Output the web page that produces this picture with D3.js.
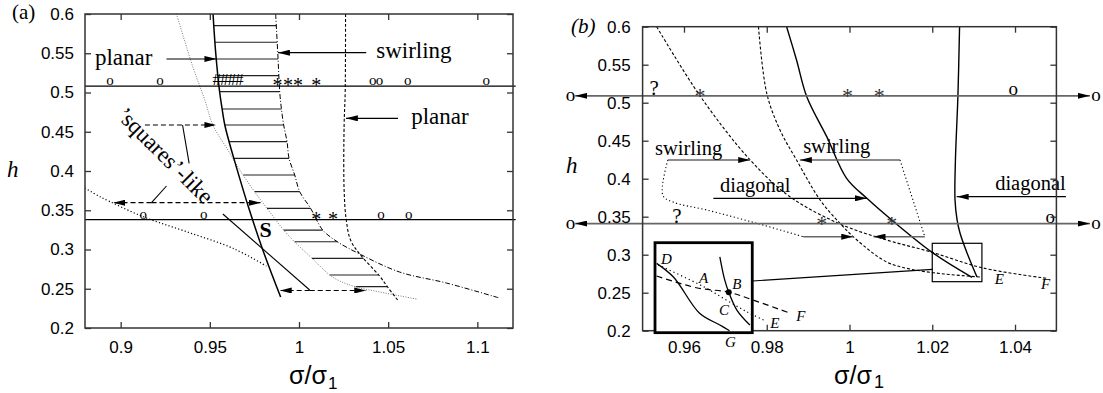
<!DOCTYPE html>
<html>
<head>
<meta charset="utf-8">
<script src="https://cdn.jsdelivr.net/npm/d3@7"></script>
<style>
  body { margin: 0; background: #fff; }
</style>
</head>
<body>
<svg id="fig" width="1103" height="393"></svg>
<script>
// ---------- data (x = sigma/sigma1, h) ----------
const yTicks = [0.2, 0.25, 0.3, 0.35, 0.4, 0.45, 0.5, 0.55, 0.6]
const xTicksA = [0.9, 0.95, 1, 1.05, 1.1]
const xTicksB = [0.96, 0.98, 1, 1.02, 1.04]

// panel (a) curves
const solidA = [[0.9518,0.6],[0.9533,0.5503],[0.9555,0.5006],[0.9568,0.4803],[0.9584,0.4586],[0.9608,0.4373],[0.9634,0.4166],[0.9713,0.3567],[0.9797,0.2994],[0.9897,0.2395]]
const grayDotA = [[0.9313,0.6],[0.9405,0.5325],[0.9472,0.4904],[0.9517,0.4586],[0.9601,0.4268],[0.9668,0.4013],[0.9752,0.3732],[0.9819,0.3529],[0.9914,0.3248],[0.9976,0.3096],[1.0071,0.2892],[1.0172,0.2675],[1.0228,0.2599],[1.0323,0.2522],[1.0452,0.2459],[1.0659,0.2369]]
const dotDashA = [[0.9869,0.6],[0.9881,0.5503],[0.9892,0.5006],[0.9901,0.4799],[0.9914,0.4586],[0.9933,0.4373],[0.9944,0.4162],[0.9976,0.3949],[1.0004,0.3736],[1.0065,0.3525],[1.0133,0.3248],[1.0217,0.3096],[1.034,0.2943],[1.0564,0.2713],[1.0827,0.2573],[1.1124,0.2382]]
const dashedA = [[1.0261,0.6],[1.0259,0.5006],[1.0253,0.4586],[1.0253,0.3758],[1.0265,0.3376],[1.0289,0.3121],[1.034,0.2943],[1.0452,0.2662],[1.0497,0.2522],[1.0553,0.2357]]
const blackDotA = [[0.88,0.3783],[0.8884,0.3673],[0.9126,0.3418],[0.9369,0.3227],[0.963,0.3015],[0.9817,0.279]]
const hatchLevelsA = [0.5851,0.564,0.5427,0.5214,0.501,0.479,0.4586,0.4373,0.4162,0.3949,0.3736,0.3525,0.3248,0.3099,0.2888,0.2675,0.2526]
const hLinesA = [0.508, 0.338]
const markersA = [
  {h:0.508,x:0.894,s:"o"},{h:0.508,x:0.922,s:"o"},
  {h:0.508,x:0.9539,s:"#"},{h:0.508,x:0.9581,s:"#"},{h:0.508,x:0.9623,s:"#"},{h:0.508,x:0.9665,s:"#"},
  {h:0.508,x:0.9879,s:"*"},{h:0.508,x:0.9938,s:"*"},{h:0.508,x:0.9994,s:"*"},{h:0.508,x:1.0097,s:"*"},
  {h:0.508,x:1.0413,s:"o"},{h:0.508,x:1.0452,s:"o"},{h:0.508,x:1.061,s:"o"},{h:0.508,x:1.105,s:"o"},
  {h:0.338,x:0.9127,s:"o"},{h:0.338,x:0.9466,s:"o"},{h:0.338,x:1.0097,s:"*"},{h:0.338,x:1.019,s:"*"},
  {h:0.338,x:1.046,s:"o"},{h:0.338,x:1.0616,s:"o"}
]
const arrowsA = [
  {from:[0.9257,0.5427],to:[0.9537,0.5427]},
  {from:[1.0377,0.5507],to:[0.9882,0.5507]},
  {from:[1.0555,0.4671],to:[1.0263,0.4671]},
  {from:[0.9136,0.4586],to:[0.9537,0.4586],dash:true},
  {from:[0.9173,0.3596],to:[0.8958,0.3596],dash:true},
  {from:[0.9173,0.3596],to:[0.9785,0.3596],dash:true},
  {from:[1.006,0.2478],to:[0.9892,0.2478],dash:true},
  {from:[1.006,0.2478],to:[1.0377,0.2478],dash:true}
]
const segmentsA = [
  [[0.9347,0.4586],[0.9384,0.4098]],
  [[0.9173,0.3596],[0.9257,0.3809]],
  [[0.9573,0.3452],[1.006,0.2484]]
]
const labelsA = [
  {t:"planar",x:0.8856,h:0.535},
  {t:"swirling",x:1.0433,h:0.5435},
  {t:"planar",x:1.0629,h:0.4595}
]

// panel (b) curves
const dashA_B = [[0.9534,0.6],[0.9639,0.5088],[0.976,0.4246],[0.9856,0.3763],[0.9977,0.3404],[1.009,0.3193],[1.0195,0.3039],[1.0323,0.2825],[1.0477,0.2689]]
const dashB_B = [[0.978,0.6],[0.98,0.5124],[0.9832,0.4641],[0.9872,0.4246],[0.9929,0.372],[0.9977,0.3413],[1.0018,0.3193],[1.009,0.2904],[1.0146,0.2812],[1.023,0.2746],[1.0316,0.2707]]
const solidC_B = [[0.9848,0.6],[0.9872,0.5562],[0.9897,0.5075],[0.9945,0.4553],[0.9993,0.4005],[1.0042,0.3742],[1.0102,0.3457],[1.0203,0.3018],[1.0296,0.2703]]
const solidD_B = [[1.0266,0.6],[1.0262,0.5088],[1.0256,0.4246],[1.0255,0.372],[1.026,0.3457],[1.0267,0.3286],[1.0284,0.3024],[1.0308,0.2707]]
const dotLeftB = [[0.9561,0.4246],[0.9549,0.378],[0.9575,0.369],[0.9655,0.3588],[0.9776,0.3413],[0.9888,0.3237]]
const dotRightB = [[1.0122,0.4246],[1.0182,0.3237]]
const hLinesB = [0.509, 0.341]
const hLineEndsB = [0.9337, 1.0581]
const hLineOB = [0.9326, 1.0596]
const markersB = [
  {h:0.509,x:0.9528,s:"?"},{h:0.509,x:0.9639,s:"*"},{h:0.509,x:0.9995,s:"*"},{h:0.509,x:1.0072,s:"*"},{h:0.509,x:1.0396,s:"o"},
  {h:0.341,x:0.9583,s:"?"},{h:0.341,x:0.9933,s:"*"},{h:0.341,x:1.0102,s:"*"},{h:0.341,x:1.0485,s:"o"}
]
const arrowsB = [
  {from:[0.9561,0.4246],to:[0.976,0.4246],gray:true},
  {from:[1.0122,0.4246],to:[0.988,0.4246],gray:true},
  {from:[0.9671,0.3742],to:[1.0042,0.3742]},
  {from:[1.0523,0.3763],to:[1.0259,0.3763]},
  {from:[0.9888,0.3237],to:[1.0009,0.3237],gray:true},
  {from:[1.0182,0.3237],to:[1.0058,0.3237],gray:true}
]
const labelsB = [
  {t:"swirling",x:0.953,h:0.4312},
  {t:"swirling",x:0.9888,h:0.4334},
  {t:"diagonal",x:0.9687,h:0.3829},
  {t:"diagonal",x:1.0352,h:0.3851}
]
const endLabelsB = [{t:"E",x:1.0362,h:0.2614},{t:"F",x:1.0474,h:0.2549}]

// inset: magnified view of the small box
const boxB = {x:[1.02,1.032], h:[0.2645,0.315]}
const insetB = {x:[0.953,0.9765], h:[0.1974,0.3158]}
const connectorB = [[0.9765,0.2654],[1.02,0.2808]]
const inSolidDG = [[1.0202,0.3034],[1.0223,0.2956],[1.0255,0.2754],[1.028,0.2688],[1.0292,0.2656]]
const inDotDE = [[1.0204,0.3025],[1.026,0.2903],[1.0288,0.2828],[1.0313,0.2763],[1.0334,0.2716]]
const inDashF = [[1.0202,0.2963],[1.0251,0.2897],[1.0291,0.2872],[1.0321,0.2828],[1.0367,0.2754]]
const inSolidB = [[1.028,0.3071],[1.0286,0.2941],[1.0291,0.2872],[1.0301,0.2772],[1.0317,0.2688]]
const inPointB = [1.0291,0.2872]
const inLabels = [
  {t:"D",x:1.0214,h:0.303},{t:"A",x:1.026,h:0.2922},{t:"B",x:1.0301,h:0.2888},{t:"C",x:1.0285,h:0.2744},
  {t:"E",x:1.0348,h:0.267},{t:"F",x:1.038,h:0.2711},{t:"G",x:1.0293,h:0.2563}
]

// ---------- drawing ----------
const SANS = '"Liberation Sans", Arial, Helvetica, sans-serif'
const SERIF = '"Liberation Serif", "Times New Roman", Times, serif'
const svg = d3.select("#fig")
const fmt = d3.format("~g")

svg.append("defs").append("marker")
  .attr("id", "ah")
  .attr("viewBox", "0 0 12 6")
  .attr("refX", 12).attr("refY", 3)
  .attr("markerWidth", 12).attr("markerHeight", 6)
  .attr("markerUnits", "userSpaceOnUse")
  .attr("orient", "auto-start-reverse")
  .append("path").attr("d", "M0,0L12,3L0,6Z").attr("fill", "#000")

const A = {
  x: d3.scaleLinear().domain([0.88, 1.12]).range([85, 513]),
  y: d3.scaleLinear().domain([0.2, 0.6]).range([328, 14])
}
const B = {
  x: d3.scaleLinear().domain([0.95, 1.05]).range([642.6, 1056.4]),
  y: d3.scaleLinear().domain([0.2, 0.6]).range([330.7, 26.7])
}

function xAt(curve, h) {
  for (let i = 0; i < curve.length - 1; i++) {
    const [xa, ha] = curve[i], [xb, hb] = curve[i + 1]
    if ((h - ha) * (h - hb) <= 0) return xa + (xb - xa) * (h - ha) / (hb - ha)
  }
  return NaN
}

function curve(p, data, style, smooth = true) {
  const line = d3.line().x(d => p.x(d[0])).y(d => p.y(d[1]))
  if (smooth) line.curve(d3.curveCatmullRom.alpha(0.5))
  const path = svg.append("path").attr("d", line(data)).attr("fill", "none")
  for (const k in style) path.attr(k, style[k])
  return path
}

function serifText(sel, size) {
  return sel.style("font-family", SERIF).attr("font-size", size)
}

function arrows(p, list) {
  svg.append("g").selectAll("line").data(list).join("line")
    .attr("x1", d => p.x(d.from[0])).attr("y1", d => p.y(d.from[1]))
    .attr("x2", d => p.x(d.to[0])).attr("y2", d => p.y(d.to[1]))
    .attr("stroke", d => d.gray ? "#666" : "#000")
    .attr("stroke-width", d => d.gray ? 1.6 : 1.2)
    .attr("stroke-dasharray", d => d.dash ? "5,3" : null)
    .attr("marker-end", "url(#ah)")
}

function axes(p, xTicks, padX, padY) {
  const [l, r] = p.x.range(), [b, t] = p.y.range()
  const put = (gen, tx, ty) => svg.append("g")
    .attr("transform", `translate(${tx},${ty})`)
    .call(gen)
    .call(g => g.select(".domain").remove())
    .call(g => g.selectAll("line").attr("stroke", "#333").attr("stroke-width", 1.3))
    .attr("font-size", 17)
    .call(g => g.selectAll("text").attr("fill", "#000").style("font-family", SANS))
  put(d3.axisBottom(p.x).tickValues(xTicks).tickFormat(fmt).tickSize(-6).tickPadding(padX), 0, b)
  put(d3.axisTop(p.x).tickValues(xTicks).tickFormat("").tickSize(-6), 0, t)
  put(d3.axisLeft(p.y).tickValues(yTicks).tickFormat(fmt).tickSize(-6).tickPadding(padY), l, 0)
  put(d3.axisRight(p.y).tickValues(yTicks).tickFormat("").tickSize(-6), r, 0)
  svg.append("rect").attr("x", l).attr("y", t).attr("width", r - l).attr("height", b - t)
    .attr("fill", "none").attr("stroke", "#333").attr("stroke-width", 1.5)
}

// ===== panel (a) =====
// hatching between left boundary (solid / gray dotted) and right boundary (dot-dash / dashed)
svg.append("g").selectAll("line").data(hatchLevelsA).join("line")
  .attr("x1", h => A.x(Math.max(xAt(solidA, h), xAt(grayDotA, h))))
  .attr("x2", h => A.x(Math.min(xAt(dotDashA, h), xAt(dashedA, h))))
  .attr("y1", h => A.y(h)).attr("y2", h => A.y(h))
  .attr("stroke", "#222").attr("stroke-width", 1.2)

curve(A, grayDotA, {stroke: "#777", "stroke-width": 1, "stroke-dasharray": "1,1.5"})
curve(A, blackDotA, {stroke: "#000", "stroke-width": 1.2, "stroke-dasharray": "1.2,2.2"})
curve(A, solidA, {stroke: "#000", "stroke-width": 1.5})
curve(A, dotDashA, {stroke: "#000", "stroke-width": 1, "stroke-dasharray": "5,2,1,2"})
curve(A, dashedA, {stroke: "#000", "stroke-width": 1.1, "stroke-dasharray": "3,2"})

svg.append("g").selectAll("line").data(hLinesA).join("line")
  .attr("x1", A.x(0.88)).attr("x2", A.x(1.1215))
  .attr("y1", h => A.y(h)).attr("y2", h => A.y(h))
  .attr("stroke", "#000").attr("stroke-width", 1.3)

segmentsA.forEach(s => curve(A, s, {stroke: "#000", "stroke-width": 1.1}, false))
arrows(A, arrowsA)

serifText(svg.append("g").selectAll("text").data(markersA).join("text"), d => d.s === "*" ? 20 : d.s === "#" ? 17 : 15)
  .attr("x", d => A.x(d.x))
  .attr("y", d => A.y(d.h) + (d.s === "*" ? 6 : -1))
  .attr("text-anchor", "middle")
  .text(d => d.s)

serifText(svg.append("g").selectAll("text").data(labelsA).join("text"), 23)
  .attr("x", d => A.x(d.x)).attr("y", d => A.y(d.h)).text(d => d.t)

serifText(svg.append("text"), 23)
  .attr("text-anchor", "middle")
  .attr("transform", `translate(${A.x(0.922)},${A.y(0.4127)}) rotate(45)`)
  .text("\u2019squares\u2019-like")

serifText(svg.append("text"), 22).attr("font-weight", "bold")
  .attr("text-anchor", "middle").attr("x", A.x(0.9813)).attr("y", A.y(0.3159)).text("S")

axes(A, xTicksA, 13, 11)

serifText(svg.append("text"), 21).attr("x", 12).attr("y", 19).text("(a)")
serifText(svg.append("text"), 23).attr("font-style", "italic").attr("x", 7).attr("y", 177).text("h")
svg.append("text").style("font-family", SANS).attr("font-size", 25).attr("x", 289).attr("y", 384).text("\u03c3/\u03c3")
svg.append("text").style("font-family", SANS).attr("font-size", 17).attr("x", 328).attr("y", 389).text("1")

// ===== panel (b) =====
curve(B, dashA_B, {stroke: "#000", "stroke-width": 1.1, "stroke-dasharray": "3,2"})
curve(B, dashB_B, {stroke: "#000", "stroke-width": 1.1, "stroke-dasharray": "3,2"})
curve(B, solidC_B, {stroke: "#000", "stroke-width": 1.4})
curve(B, solidD_B, {stroke: "#000", "stroke-width": 1.4})
curve(B, dotLeftB, {stroke: "#000", "stroke-width": 1.1, "stroke-dasharray": "1.2,2.5"})
curve(B, dotRightB, {stroke: "#000", "stroke-width": 1.1, "stroke-dasharray": "1.2,2.5"}, false)

svg.append("g").selectAll("line").data(hLinesB).join("line")
  .attr("x1", B.x(hLineEndsB[0])).attr("x2", B.x(hLineEndsB[1]))
  .attr("y1", h => B.y(h)).attr("y2", h => B.y(h))
  .attr("stroke", "#666").attr("stroke-width", 1.8)
  .attr("marker-start", "url(#ah)").attr("marker-end", "url(#ah)")

hLinesB.forEach(h => {
  hLineOB.forEach(xo => {
    serifText(svg.append("text"), 19).attr("text-anchor", "middle")
      .attr("x", B.x(xo)).attr("y", B.y(h) + 5).text("o")
  })
})

arrows(B, arrowsB)

serifText(svg.append("g").selectAll("text").data(markersB).join("text"), d => d.s === "?" ? 21 : d.s === "*" ? 22 : 19)
  .attr("x", d => B.x(d.x))
  .attr("y", d => B.y(d.h) + (d.s === "*" ? 7 : -1))
  .attr("text-anchor", "middle")
  .attr("fill", d => d.s === "*" ? "#333" : "#000")
  .text(d => d.s)

serifText(svg.append("g").selectAll("text").data(labelsB).join("text"), 20.5)
  .attr("x", d => B.x(d.x)).attr("y", d => B.y(d.h)).text(d => d.t)

serifText(svg.append("g").selectAll("text").data(endLabelsB).join("text"), 15)
  .attr("font-style", "italic").attr("text-anchor", "middle")
  .attr("x", d => B.x(d.x)).attr("y", d => B.y(d.h)).text(d => d.t)

// small box and connector
svg.append("rect")
  .attr("x", B.x(boxB.x[0])).attr("y", B.y(boxB.h[1]))
  .attr("width", B.x(boxB.x[1]) - B.x(boxB.x[0])).attr("height", B.y(boxB.h[0]) - B.y(boxB.h[1]))
  .attr("fill", "none").attr("stroke", "#000").attr("stroke-width", 1.2)
curve(B, connectorB, {stroke: "#000", "stroke-width": 1.2}, false)

axes(B, xTicksB, 10, 12)

// inset
const I = {
  x: d3.scaleLinear().domain(boxB.x).range([B.x(insetB.x[0]), B.x(insetB.x[1])]),
  y: d3.scaleLinear().domain(boxB.h).range([B.y(insetB.h[0]), B.y(insetB.h[1])])
}
svg.append("rect")
  .attr("x", B.x(insetB.x[0])).attr("y", B.y(insetB.h[1]))
  .attr("width", B.x(insetB.x[1]) - B.x(insetB.x[0])).attr("height", B.y(insetB.h[0]) - B.y(insetB.h[1]))
  .attr("fill", "#fff").attr("stroke", "#000").attr("stroke-width", 2.8)
curve(I, inSolidDG, {stroke: "#000", "stroke-width": 1.3})
curve(I, inDotDE, {stroke: "#000", "stroke-width": 1.2, "stroke-dasharray": "1.2,3"})
curve(I, inDashF, {stroke: "#000", "stroke-width": 1.2, "stroke-dasharray": "6,4"})
curve(I, inSolidB, {stroke: "#000", "stroke-width": 1.3})
svg.append("circle").attr("cx", I.x(inPointB[0])).attr("cy", I.y(inPointB[1])).attr("r", 3).attr("fill", "#000")
serifText(svg.append("g").selectAll("text").data(inLabels).join("text"), 15)
  .attr("font-style", "italic").attr("text-anchor", "middle")
  .attr("x", d => I.x(d.x)).attr("y", d => I.y(d.h)).text(d => d.t)

serifText(svg.append("text"), 21).attr("font-style", "italic").attr("x", 571).attr("y", 33).text("(b)")
serifText(svg.append("text"), 23).attr("font-style", "italic").attr("x", 566).attr("y", 173).text("h")
svg.append("text").style("font-family", SANS).attr("font-size", 25).attr("x", 834).attr("y", 384).text("\u03c3/\u03c3")
svg.append("text").style("font-family", SANS).attr("font-size", 18).attr("x", 874).attr("y", 388).text("1")
</script>
</body>
</html>
